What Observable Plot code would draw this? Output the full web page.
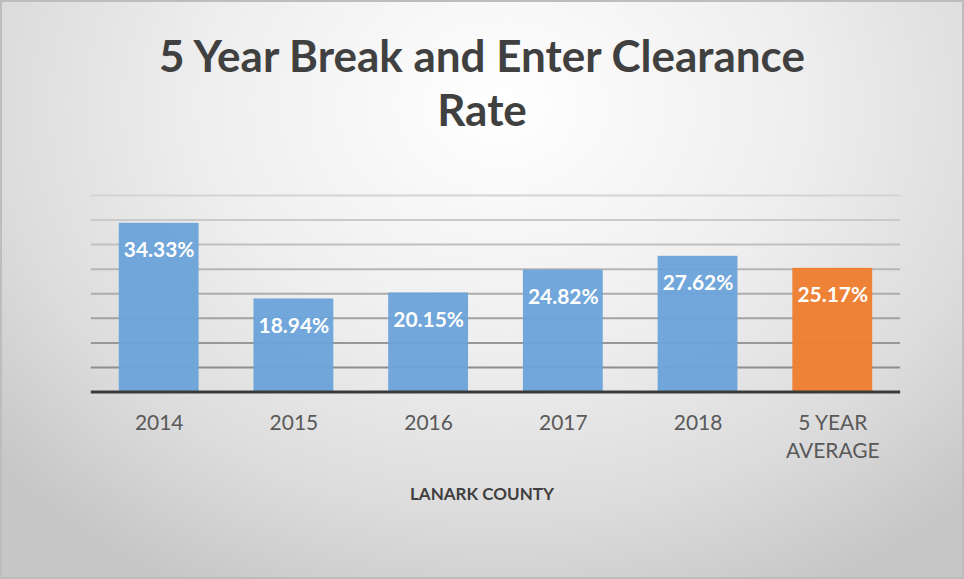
<!DOCTYPE html>
<html><head><meta charset="utf-8">
<script src="https://cdn.jsdelivr.net/npm/d3@7"></script>
<script src="https://cdn.jsdelivr.net/npm/@observablehq/plot@0.6"></script>
<style>
body{margin:0;background:#fff;}
#frame{position:relative;width:964px;height:579px;overflow:hidden;box-sizing:border-box;border:2px solid #bdbdbd;
  background:radial-gradient(ellipse 70% 95% at 52% 18%, #ffffff 0%, #eeeeee 45%, #dcdcdc 75%, #c6c6c6 100%);
  font-family:Lato, "Open Sans", sans-serif;}
#title{position:absolute;left:0;top:26px;width:100%;text-align:center;font-size:44px;font-weight:700;color:#404040;line-height:54px;}
#chart{position:absolute;left:-2px;top:178px;}
#caption{position:absolute;left:0;width:100%;top:481px;text-align:center;font-size:17px;font-weight:700;color:#404040;}
</style></head>
<body>
<div id="frame">
  <div id="title">5 Year Break and Enter Clearance<br>Rate</div>
  <div id="chart"></div>
  <div id="caption">LANARK COUNTY</div>
</div>
<script>
const categories = ["2014", "2015", "2016", "2017", "2018", "5 YEAR AVERAGE"];
const values = [34.33, 18.94, 20.15, 24.82, 27.62, 25.17];
const averageCategory = "5 YEAR AVERAGE";
const gridTicks = [5, 10, 15, 20, 25, 30, 35, 40];

const data = categories.map((c, i) => ({cat: c, v: values[i]}));
const years = data.filter(d => d.cat !== averageCategory);
const avg = data.filter(d => d.cat === averageCategory);

const chart = Plot.plot({
  width: 964,
  height: 300,
  marginLeft: 91,
  marginRight: 62,
  marginTop: 15,
  marginBottom: 88,
  style: {fontFamily: "Lato, 'Open Sans', sans-serif", background: "transparent", overflow: "visible"},
  x: {domain: categories, paddingInner: 0.41, paddingOuter: 0.2, label: null},
  y: {domain: [0, 40], axis: null},
  color: {type: "linear", domain: [5, 40], range: ["#8e8e8e", "#d4d4d4"]},
  marks: [
    Plot.ruleY(gridTicks, {y: d => d, stroke: d => d, strokeWidth: 2}),
    Plot.barY(years, {x: "cat", y: "v", fill: "#6ba3d8", fillOpacity: 0.96}),
    Plot.barY(avg, {x: "cat", y: "v", fill: "#ee7f33", fillOpacity: 0.98}),
    Plot.ruleY([0], {stroke: "#3a3a3a", strokeWidth: 3}),
    Plot.text(data, {x: "cat", y: "v", text: d => d.v.toFixed(2) + "%", dy: 27,
      fill: "white", fontWeight: "bold", fontSize: 21}),
    Plot.axisX({tickSize: 0, tickPadding: 17, fontSize: 21, color: "#595959", lineHeight: 1.38,
      tickFormat: d => d.replace(" AVERAGE", "\nAVERAGE")})
  ]
});
document.getElementById("chart").appendChild(chart);
</script>
</body></html>
